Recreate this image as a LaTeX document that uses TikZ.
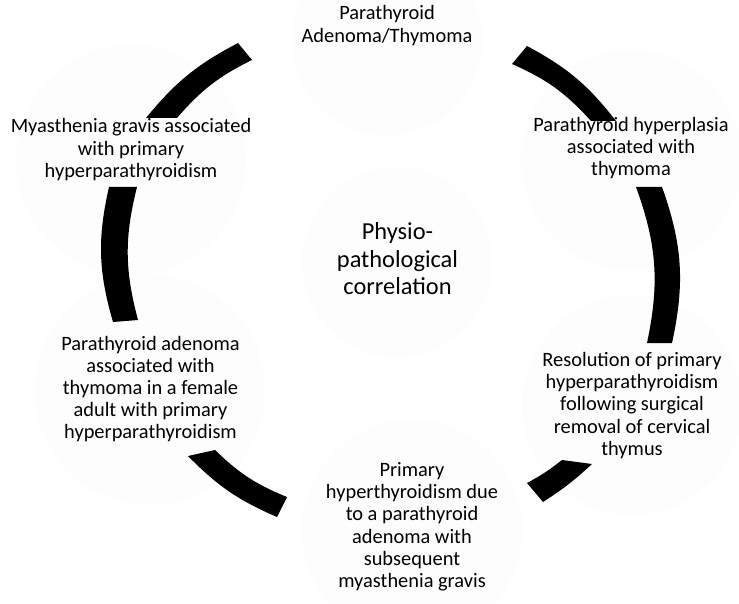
\documentclass[tikz,border=0pt]{standalone}
\usepackage{fontspec}
\setmainfont{Carlito}
\begin{document}
\begin{tikzpicture}[x=1pt,y=-1pt,
  ringseg/.style={fill=black, draw=none},
  faint/.style={fill=black!0.8, draw=none},
  lbl/.style={anchor=base, inner sep=0pt, font=\fontsize{20.4}{22.1}\selectfont},
  mainlbl/.style={anchor=base, inner sep=0pt, font=\fontsize{24.4}{27.5}\selectfont}]
\useasboundingbox (0,0) rectangle (739,604);
\fill[white] (0,0) rectangle (739,604);
\begin{scope}
\clip (0,0) rectangle (739,604);
% faint node backgrounds
\fill[faint] (387,40) circle[radius=95];
\fill[faint] (631,160) circle[radius=110];
\fill[faint] (632,405) circle[radius=110];
\fill[faint] (412,530) circle[radius=110];
\fill[faint] (150,390) circle[radius=115];
\fill[faint] (131,160) circle[radius=115];
\fill[faint] (397,262) circle[radius=95];
\end{scope}
% ring segments (clockwise)
\fill[ringseg] (527,46) to[bend left=12] (616,121) -- (591,121) to[bend right=12] (512,64) -- cycle;
\fill[ringseg] (662,187) to[bend left=16] (672,343) -- (647,343) to[bend right=16] (636,187) -- cycle;
\fill[ringseg] (592,464) to[bend left=5] (543,502) -- (527,483) to[bend right=5] (562,460) -- cycle;
\fill[ringseg] (277,517) to[bend left=11] (188,456) -- (215,450) to[bend right=11] (287,497) -- cycle;
\fill[ringseg] (113,322) to[bend left=14.5] (109,187) -- (137,187) to[bend right=14.5] (138,320) -- cycle;
\fill[ringseg] (146,118) to[bend left=11.5] (238,43) -- (252,60) to[bend right=11.5] (177,118) -- cycle;
% labels
\node[lbl] (top) at (387,20) {\parbox[t]{300pt}{\centering Parathyroid\\Adenoma/Thymoma}};
\node[lbl] (tr) at (631,131.7) {\parbox[t]{300pt}{\centering Parathyroid hyperplasia\\associated with\\thymoma}};
\node[lbl] (br) at (632,366.7) {\parbox[t]{300pt}{\centering Resolution of primary\\hyperparathyroidism\\following surgical\\removal of cervical\\thymus}};
\node[lbl] (bot) at (412,476.7) {\parbox[t]{300pt}{\centering Primary\\hyperthyroidism due\\to a parathyroid\\adenoma with\\subsequent\\myasthenia gravis}};
\node[lbl] (bl) at (150.5,350) {\parbox[t]{300pt}{\centering Parathyroid adenoma\\associated with\\thymoma in a female\\adult with primary\\hyperparathyroidism}};
\node[lbl] (tl) at (131,133) {\parbox[t]{300pt}{\centering Myasthenia gravis associated\\with primary\\hyperparathyroidism}};
\node[mainlbl] (ctr) at (397.5,240) {\parbox[t]{300pt}{\centering Physio-\\pathological\\correlation}};
\end{tikzpicture}
\end{document}
